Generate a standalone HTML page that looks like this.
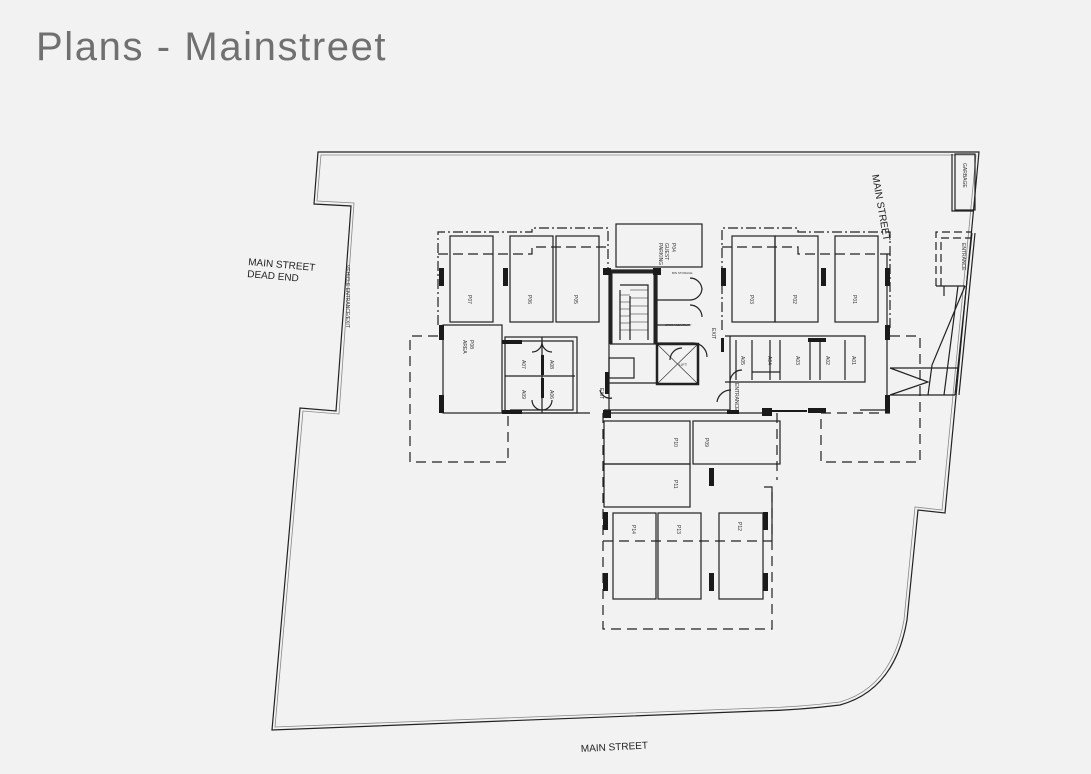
<!DOCTYPE html>
<html><head><meta charset="utf-8"><style>
html,body{margin:0;padding:0;background:#f2f2f2;}
.t{position:absolute;left:36px;top:25px;font-family:"Liberation Sans",sans-serif;font-size:40px;color:#707070;font-weight:300;letter-spacing:1.6px}
svg{position:absolute;left:0;top:0}
</style></head><body>
<div class="t">Plans - Mainstreet</div>
<svg width="1091" height="774" viewBox="0 0 1091 774" font-family="Liberation Sans, sans-serif">
<g fill="none" stroke="#222" stroke-width="1.2">
<path d="M318,152 L979,152 L945,513 L918,510 L907,620 Q895,690 840,705 Q800,710 760,711 L272,730 L300,408 L336,411 L351,206 L314,204 Z"/>
<path d="M321,155 L976,155 L942,510 L915,507 L904,620 Q892,687 840,702 Q800,707 760,708 L275,727 L303,411 L339,414 L354,203 L317,201 Z" stroke="#888" stroke-width="0.8"/>
<rect x="955" y="154" width="20" height="56"/>
<path d="M952,154 L952,211 L973,211"/>
<g stroke-dasharray="8,4"><path d="M936,286 L936,232 L972,232"/><path d="M941,286 L941,238 L972,238"/></g>
<path d="M936,286 L965,286 M944,286 L944,296 M965,286 L932,365 L928,395 M958,286 L944,395 M972,233 L955,395 M975,233 L959,395"/>
<path d="M890,368 L958,368 M890,395 L955,395 M890,368 L928,382 L890,395"/>
<g stroke-dasharray="10,3,2,3"><path d="M438,325 L438,232 L532,232 L532,228 L608,228 L608,270"/></g>
<g stroke-dasharray="10,5"><path d="M438,254 L532,254 L532,247 L608,247"/></g>
<rect x="450" y="236" width="43" height="86"/>
<rect x="510" y="236" width="43" height="86"/>
<rect x="556" y="236" width="43" height="86"/>
<rect x="616" y="224" width="86" height="43"/>
<rect x="443" y="325" width="59" height="88"/>
<rect x="505" y="337" width="72" height="76"/>
<path d="M505,376 L575,376 M542,337 L542,413 M510,341 L573,341 L573,410 L510,410"/>
<path d="M542,342 A10,10 0 0 1 532,352 M542,342 A10,10 0 0 0 552,352 M542,410 A10,10 0 0 1 532,400 M542,410 A10,10 0 0 0 552,400"/>
<g stroke-dasharray="10,6"><path d="M438,336 L410,336 L410,462 L508,462 L508,413"/></g>
<path d="M502,413 L590,413"/>
<path d="M604,270 L657,270 L657,360 M609,275 L609,410 M657,275 L657,340 M620,285 L648,285 L648,340 M630,296 L630,340 M620,290 L620,340 M610,344 L657,344 M657,343 L693,343 M657,300 L690,300 M657,325 L690,325"/>
<path d="M611,272 L611,344 M655,272 L655,344 M611,272 L655,272" stroke-width="3"/>
<g stroke-width="0.6"><path d="M620,295 L630,295 M620,302 L630,302 M620,309 L630,309 M620,316 L630,316 M620,323 L630,323 M620,330 L630,330 M630,290 L648,290 M630,298 L648,298 M630,306 L648,306 M630,314 L648,314 M630,322 L648,322 M630,330 L648,330"/></g>
<rect x="657" y="344" width="41" height="40" stroke-width="2.5"/>
<path d="M657,344 L698,384 M698,344 L657,384" stroke-width="0.6"/>
<rect x="609" y="358" width="25" height="20"/>
<path d="M609,383 L657,383 M604,410 L730,410 M604,413 L770,413 M730,336 L730,410 M725,336 L865,336 L865,382 L725,382 M736,340 L736,380 M752,340 L752,380 M770,340 L770,380 M780,340 L780,380 M810,340 L810,380 M820,340 L820,380 M845,340 L845,380 M752,372 L780,372"/>
<path d="M693,343 A14,14 0 0 1 707,357 M690,278 A12,12 0 0 1 702,290 M690,300 A12,12 0 0 0 702,288 M690,305 A12,12 0 0 1 702,317 M670,360 A12,12 0 0 1 682,348 M612,398 A10,10 0 0 1 600,390 M742,370 A12,12 0 0 0 730,382 M717,402 A14,14 0 0 1 731,390"/>
<g stroke-dasharray="10,3,2,3"><path d="M722,330 L722,228 L798,228 L798,232 L890,232 L890,330"/></g>
<g stroke-dasharray="10,5"><path d="M722,247 L798,247 L798,254 L890,254"/></g>
<path d="M887,254 L887,410 L860,410"/>
<rect x="732" y="236" width="43" height="86"/>
<rect x="775" y="236" width="43" height="86"/>
<rect x="835" y="236" width="43" height="86"/>
<g stroke-dasharray="10,6"><path d="M890,336 L920,336 L920,462 L821,462 L821,413 M821,413 L890,413"/></g>
<g stroke-dasharray="10,6"><path d="M603,413 L603,629 L772,629 L772,487 M777,413 L777,480 M603,541 L772,541"/></g>
<path d="M764,487 L772,487 L772,540"/>
<rect x="604" y="421" width="86" height="43"/>
<rect x="604" y="464" width="86" height="43"/>
<rect x="693" y="421" width="87" height="43"/>
<rect x="613" y="513" width="43" height="86"/>
<rect x="658" y="513" width="43" height="86"/>
<rect x="719" y="513" width="44" height="86"/>
</g>
<g fill="#1a1a1a">
<rect x="439" y="268" width="5" height="18"/><rect x="503" y="268" width="5" height="18"/>
<rect x="439" y="325" width="5" height="15"/><rect x="439" y="395" width="5" height="18"/>
<rect x="603" y="268" width="8" height="7"/><rect x="653" y="268" width="8" height="7"/>
<rect x="605" y="372" width="4" height="22"/><rect x="603" y="410" width="8" height="8"/>
<rect x="502" y="340" width="20" height="4"/><rect x="502" y="410" width="20" height="4"/>
<rect x="541" y="355" width="3" height="20"/><rect x="541" y="378" width="3" height="20"/>
<rect x="721" y="268" width="5" height="18"/><rect x="821" y="268" width="5" height="18"/>
<rect x="885" y="268" width="5" height="18"/><rect x="885" y="325" width="5" height="15"/><rect x="885" y="395" width="5" height="18"/>
<rect x="808" y="338" width="18" height="4"/><rect x="721" y="338" width="3" height="14"/>
<rect x="762" y="408" width="10" height="8"/><rect x="808" y="408" width="18" height="5"/>
<rect x="772" y="410" width="35" height="2"/>
<rect x="727" y="410" width="12" height="4"/>
<rect x="603" y="512" width="5" height="18"/><rect x="603" y="573" width="5" height="18"/>
<rect x="763" y="512" width="5" height="18"/><rect x="763" y="573" width="5" height="18"/>
<rect x="709" y="573" width="5" height="18"/><rect x="709" y="468" width="5" height="18"/>
</g>
<g font-size="5" fill="#333">
<text transform="translate(468,295) rotate(90)">P07</text>
<text transform="translate(528,295) rotate(90)">P06</text>
<text transform="translate(574,295) rotate(90)">P05</text>
<text transform="translate(672,243) rotate(90)">P04</text>
<text transform="translate(665,243) rotate(90)">GUEST</text>
<text transform="translate(659,243) rotate(90)">PARKING</text>
<text transform="translate(470,340) rotate(90)">P08</text>
<text transform="translate(463,340) rotate(90)">AREA</text>
<text transform="translate(522,360) rotate(90)">A07</text>
<text transform="translate(550,360) rotate(90)">A08</text>
<text transform="translate(522,390) rotate(90)">A09</text>
<text transform="translate(550,390) rotate(90)">A06</text>
<text transform="translate(750,295) rotate(90)">P03</text>
<text transform="translate(793,295) rotate(90)">P02</text>
<text transform="translate(853,295) rotate(90)">P01</text>
<text transform="translate(741,356) rotate(90)">A05</text>
<text transform="translate(768,356) rotate(90)">A04</text>
<text transform="translate(796,356) rotate(90)">A03</text>
<text transform="translate(826,356) rotate(90)">A02</text>
<text transform="translate(852,356) rotate(90)">A01</text>
<text transform="translate(674,438) rotate(90)">P10</text>
<text transform="translate(705,438) rotate(90)">P09</text>
<text transform="translate(674,480) rotate(90)">P11</text>
<text transform="translate(632,525) rotate(90)">P14</text>
<text transform="translate(677,525) rotate(90)">P13</text>
<text transform="translate(738,522) rotate(90)">P12</text>
<text transform="translate(712,328) rotate(90)">EXIT</text>
<text transform="translate(600,388) rotate(90)">EXIT</text>
<text transform="translate(735,383) rotate(90)">ENTRANCE</text>
<text transform="translate(962,243) rotate(90)">ENTRANCE</text>
<text transform="translate(963,163) rotate(90)">GARBAGE</text>
<text transform="translate(346,265) rotate(90)">VEHICLE ENTRANCE/EXIT</text>
<text x="672" y="274" font-size="3">BIN STORAGE</text>
<text x="665" y="326" font-size="3">STORAGE/UTILITY</text>
<text x="679" y="366" font-size="4">LIFT</text>
</g>
<g font-size="10" fill="#222">
<text transform="translate(248,265) rotate(5)">MAIN STREET</text>
<text transform="translate(247,277) rotate(5)">DEAD END</text>
<text transform="translate(872,175) rotate(80)">MAIN STREET</text>
<text transform="translate(581,752) rotate(-3)">MAIN STREET</text>
</g>
</svg>
</body></html>
